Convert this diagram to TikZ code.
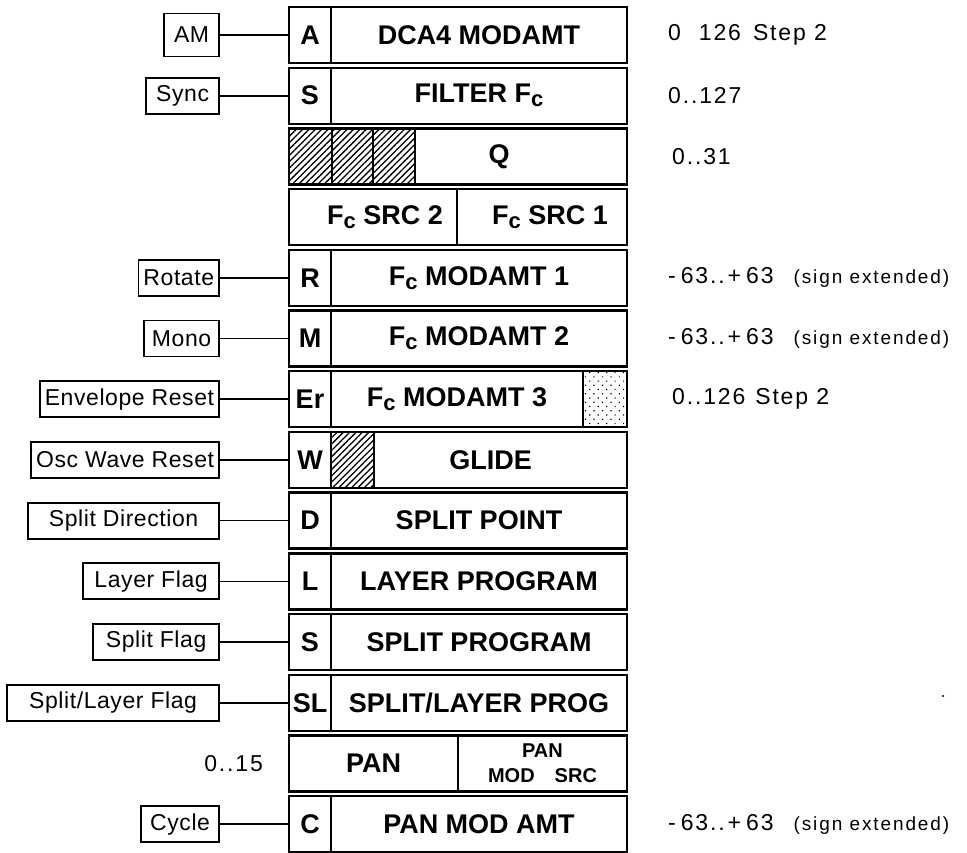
\documentclass[tikz,border=0pt]{standalone}
\usepackage{fontspec}
\setmainfont{Liberation Sans}
\newfontfamily\flagfamily{Liberation Sans}[LetterSpace=2.5]
\newfontfamily\rangefamily{Liberation Sans}[LetterSpace=8]
\newfontfamily\signfamily{Liberation Sans}[LetterSpace=10]
\usetikzlibrary{patterns.meta, positioning}

\newcommand{\boxfont}{\fontsize{27}{29}\selectfont\bfseries}
\newcommand{\flagfont}{\flagfamily\fontsize{23}{25}\selectfont}
\newcommand{\rangefont}{\rangefamily\fontsize{23}{25}\selectfont}
\newcommand{\signfont}{\signfamily\fontsize{19}{21}\selectfont}
\newcommand{\Fc}{F\raisebox{-4pt}{\fontsize{22}{22}\selectfont c}}
\newcommand{\sgnrange}{-\hspace{5pt}63..\hspace{3pt}+\hspace{5pt}63\hspace{20pt}{\signfont (sign extended)}}

\begin{document}
\begin{tikzpicture}[x=1pt, y=-1pt,
	cell/.style={draw, line width=2.4pt, minimum height=56pt, inner sep=0pt, font=\boxfont},
	flag/.style={draw, line width=1.8pt, inner xsep=5pt, inner ysep=0pt, anchor=east, font=\flagfont},
	link/.style={line width=1.6pt},
	valtext/.style={anchor=west, inner sep=0pt, font=\rangefont},
	hatch/.style={draw, line width=2.4pt, pattern={Lines[angle=45, distance=4.5pt, line width=1.3pt]}},
	dots/.style={draw, line width=2.4pt, pattern={Dots[angle=45, distance=6pt, radius=0.8pt]}},
]

\def \rowtop{7}
\def \rowstep{60.7}
\def \rowh{56}
% \def \rowstep{60} % tighter rows

\newcommand{\rt}[1]{\rowtop + \rowstep * #1}
\newcommand{\ry}[1]{\rowtop + \rowstep * #1 + \rowh / 2}

\useasboundingbox (0,0) rectangle (967,852);

\foreach \k/\bit/\flagtxt/\flagw/\flagh in {0/A/AM/55/43, 1/S/Sync/73/36, 4/R/Rotate/80/36, 5/M/Mono/75/36, 6/Er/Envelope Reset/179/36, 7/W/Osc Wave Reset/187/36, 8/D/Split Direction/191/36, 9/L/Layer Flag/136/36, 10/S/Split Flag/126/36, 11/SL/{Split/Layer Flag}/212/36, 13/C/Cycle/78/36} {
	\node[cell, minimum width=42pt] (bit\k) at (310, \ry{\k}) {\bit}; % bit cell
	\node[flag, minimum width=\flagw pt, minimum height=\flagh pt] (flag\k) at (220, \ry{\k}) {\flagtxt}; % flag name
	\draw[link] (flag\k) -- (bit\k); % flag line
}

\foreach \k/\txt in {0/DCA4 MODAMT, 1/FILTER \Fc, 4/\Fc{} MODAMT 1, 5/\Fc{} MODAMT 2, 8/SPLIT POINT, 9/LAYER PROGRAM, 10/SPLIT PROGRAM, 11/{SPLIT/LAYER PROG}, 13/PAN MOD AMT} {
	\node[cell, minimum width=296pt] (field\k) at (479, \ry{\k}) {\txt}; % parameter field
}

% Q row with unused bits
\foreach \xa/\xb in {289/332, 332/373, 373/415} {
	\draw[hatch] (\xa, \rt{2}) rectangle (\xb, \rt{2} + \rowh);
}
\node[cell, minimum width=212pt] (field2) at (521, \ry{2}) {Q\hspace*{44pt}};

% filter sources
\node[cell, minimum width=168pt] (src2) at (373, \ry{3}) {\hspace*{24pt}\Fc{} SRC 2};
\node[cell, minimum width=170pt] (src1) at (542, \ry{3}) {\hspace*{16pt}\Fc{} SRC 1};

\node[cell, minimum width=252pt] (field6) at (457, \ry{6}) {\Fc{} MODAMT 3};
\draw[dots] (583, \rt{6}) rectangle (627, \rt{6} + \rowh);

\draw[hatch] (331, \rt{7}) rectangle (374, \rt{7} + \rowh);
\node[cell, minimum width=253pt] (field7) at (500.5, \ry{7}) {GLIDE\hspace*{20pt}};

% pan
\node[cell, minimum width=169pt] (pan) at (373.5, \ry{12}) {PAN};
\node[cell, minimum width=169pt, align=center, font=\fontsize{20}{25}\selectfont\bfseries] (pansrc) at (542.5, \ry{12}) {PAN\\MOD\hspace{20pt}SRC};
\node[valtext, anchor=east] (panrange) at (263, \ry{12}) {0..15};

% value ranges
\node[valtext] (range0) at (668, \ry{0}) {0\hspace{18pt}126\hspace{12pt}Step 2};
\node[valtext] (range1) at (668, \ry{1}) {0..127};
\node[valtext] (range2) at (672, \ry{2}) {0..31};
\node[valtext] (range4) at (668, \ry{4}) {\sgnrange};
\node[valtext] (range5) at (668, \ry{5}) {\sgnrange};
\node[valtext] (range6) at (672, \ry{6}) {0..126\hspace{10pt}Step 2};
\node[valtext] (range13) at (668, \ry{13}) {\sgnrange};

\fill (943, 696) circle (1.2pt);

\end{tikzpicture}
\end{document}
